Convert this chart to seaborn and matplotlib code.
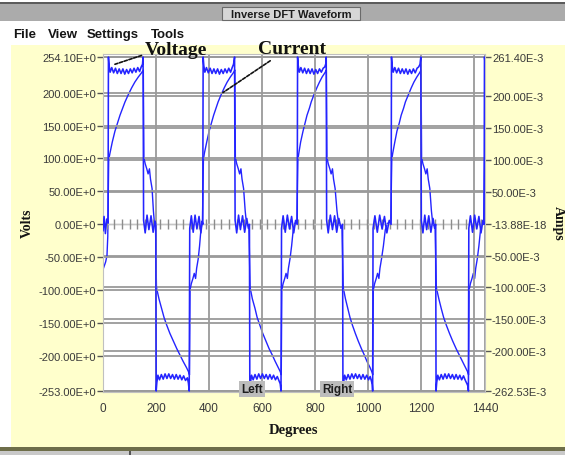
import matplotlib
matplotlib.use("Agg")
import matplotlib.pyplot as plt
import matplotlib.transforms as mtransforms
from matplotlib.patches import Rectangle
import numpy as np
import pandas as pd
import seaborn as sns

# ---------------- data ----------------
# Voltage waveform: (degrees, volts)
voltage_pts = [
    (0, -10), (4, 12), (9, -14), (14, 8), (19, 2),
    (20.5, 254), (23, 241), (27, 231), (33, 238), (40, 230), (47, 237), (54, 229), (61, 236), (68, 229),
    (75, 236), (82, 228), (89, 235), (96, 229), (103, 236), (110, 230), (117, 237), (124, 231), (131, 238),
    (138, 232), (144, 239), (149, 243), (151, 254), (153, 6),
    (159, -13), (166, 14), (173, -8), (181, 13), (189, -12), (196, 5), (199, 0),
    (200.5, -253), (203, -240), (207, -229), (213, -236), (220, -228), (227, -235), (234, -227), (241, -234),
    (248, -227), (255, -234), (262, -228), (269, -235), (276, -228), (283, -235), (290, -229), (297, -236),
    (304, -230), (311, -237), (318, -233), (322, -241), (325, -253), (327, -6),
    (333, 13), (340, -12), (347, 14), (354, -7), (362, 12), (369, -13), (374, 5), (376, 0),
    (377.5, 254), (380, 241), (384, 231), (390, 238), (397, 230), (404, 237), (411, 229), (418, 236),
    (425, 229), (432, 236), (439, 228), (446, 235), (453, 229), (460, 236), (467, 230), (474, 237),
    (481, 231), (487, 238), (492, 243), (496, 254), (498, 6),
    (504, -13), (511, 14), (518, -8), (526, 13), (534, -12), (542, 9), (548, -6), (552, 0),
    (553.5, -253), (556, -240), (560, -229), (566, -236), (573, -228), (580, -235), (587, -227), (594, -234),
    (601, -227), (608, -234), (615, -228), (622, -235), (629, -228), (636, -235), (643, -229), (650, -236),
    (657, -231), (663, -237), (668, -242), (671, -253), (673, -6),
    (679, 13), (687, -12), (695, 14), (703, -7), (711, 12), (719, -13), (726, 6), (732, 0),
    (733.5, 254), (736, 241), (740, 231), (746, 238), (753, 230), (760, 237), (767, 229), (774, 236),
    (781, 229), (788, 236), (795, 228), (802, 235), (809, 229), (816, 236), (823, 231), (830, 237),
    (836, 239), (840, 244), (841.5, 254), (843, 6),
    (849, -13), (857, 14), (865, -8), (873, 13), (881, -12), (889, 9), (897, -6), (903, 0),
    (904.5, -253), (907, -240), (911, -229), (917, -236), (924, -228), (931, -235), (938, -227), (945, -234),
    (952, -227), (959, -234), (966, -228), (973, -235), (980, -228), (987, -235), (994, -229), (1001, -236),
    (1007, -231), (1012, -238), (1015, -243), (1016.5, -253), (1018, -6),
    (1025, 13), (1034, -12), (1043, 14), (1052, -7), (1061, 12), (1070, -13), (1079, 6), (1086, 0),
    (1087.5, 254), (1090, 241), (1094, 231), (1100, 238), (1107, 230), (1114, 237), (1121, 229), (1128, 236),
    (1135, 229), (1142, 236), (1149, 228), (1156, 235), (1163, 229), (1170, 236), (1177, 230), (1184, 237),
    (1190, 239), (1195, 243), (1198, 254), (1200, 6),
    (1206, -13), (1213, 14), (1220, -8), (1228, 13), (1236, -12), (1244, 9), (1250, -6), (1254, 0),
    (1255.5, -253), (1258, -240), (1262, -229), (1268, -236), (1275, -228), (1282, -235), (1289, -227),
    (1296, -234), (1303, -227), (1310, -234), (1317, -228), (1324, -235), (1331, -228), (1338, -235),
    (1345, -229), (1352, -236), (1359, -230), (1366, -237), (1372, -242), (1376, -246), (1377.5, -253), (1379, -6),
    (1385, 13), (1393, -12), (1401, 14), (1409, -7), (1417, 12), (1425, -13), (1432, 6), (1436.5, 0),
    (1438, 254), (1440, 246),
]

# Current waveform: (degrees, amps)
current_pts = [
    (0, -0.072), (5, -0.066), (10, -0.060), (15, -0.050), (18, -0.020), (21.5, 0.100),
    (26, 0.110), (35, 0.128), (45, 0.145), (55, 0.158), (64, 0.170), (74, 0.181), (83, 0.191), (95, 0.202),
    (108, 0.213), (120, 0.222), (133, 0.230), (146, 0.237), (152, 0.241),
    (154, 0.104), (159, 0.094), (165, 0.086), (170, 0.078), (175, 0.086), (179, 0.070), (185, 0.055),
    (190, 0.020), (194, 0.000), (198, -0.005), (201.5, -0.100),
    (211, -0.118), (221, -0.133), (230, -0.147), (240, -0.159), (252, -0.172), (265, -0.184), (278, -0.196),
    (290, -0.206), (302, -0.216), (315, -0.226), (322, -0.232), (326, -0.237),
    (328, -0.104), (333, -0.094), (339, -0.086), (344, -0.078), (349, -0.086), (353, -0.070), (359, -0.055),
    (364, -0.035), (369, -0.010), (373, 0.000), (375, 0.005), (378.5, 0.100),
    (382, 0.110), (391, 0.128), (400, 0.145), (409, 0.158), (417, 0.170), (426, 0.181), (434, 0.191),
    (445, 0.202), (457, 0.213), (468, 0.222), (480, 0.230), (492, 0.237), (497, 0.241),
    (499, 0.104), (504, 0.094), (510, 0.086), (515, 0.078), (520, 0.086), (524, 0.070), (530, 0.055),
    (536, 0.020), (541, 0.000), (550, -0.005), (554.5, -0.100),
    (563, -0.118), (573, -0.133), (581, -0.147), (591, -0.159), (602, -0.172), (614, -0.184), (626, -0.196),
    (638, -0.206), (649, -0.216), (661, -0.226), (668, -0.232), (672, -0.237),
    (674, -0.104), (679, -0.094), (685, -0.086), (690, -0.078), (695, -0.086), (699, -0.070), (705, -0.055),
    (711, -0.035), (717, -0.010), (723, 0.000), (731, 0.005), (734.5, 0.100),
    (738, 0.110), (745, 0.128), (754, 0.145), (762, 0.158), (769, 0.170), (778, 0.181), (785, 0.191),
    (795, 0.202), (806, 0.213), (816, 0.222), (826, 0.230), (837, 0.237), (842, 0.241),
    (844, 0.104), (849, 0.094), (855, 0.086), (860, 0.078), (865, 0.086), (869, 0.070), (875, 0.055),
    (882, 0.020), (888, 0.000), (901, -0.005), (905.5, -0.100),
    (914, -0.118), (923, -0.133), (931, -0.147), (940, -0.159), (951, -0.172), (962, -0.184), (974, -0.196),
    (985, -0.206), (995, -0.216), (1007, -0.226), (1013, -0.232), (1017, -0.237),
    (1019, -0.104), (1024, -0.094), (1030, -0.086), (1035, -0.078), (1040, -0.086), (1044, -0.070),
    (1050, -0.055), (1057, -0.035), (1064, -0.010), (1072, 0.000), (1085, 0.005), (1088.5, 0.100),
    (1092, 0.110), (1100, 0.128), (1108, 0.145), (1117, 0.158), (1124, 0.170), (1133, 0.181), (1140, 0.191),
    (1151, 0.202), (1162, 0.213), (1172, 0.222), (1183, 0.230), (1194, 0.237), (1199, 0.241),
    (1201, 0.104), (1206, 0.094), (1212, 0.086), (1217, 0.078), (1222, 0.086), (1226, 0.070), (1232, 0.055),
    (1238, 0.020), (1243, 0.000), (1252, -0.005), (1256.5, -0.100),
    (1266, -0.118), (1275, -0.133), (1284, -0.147), (1294, -0.159), (1306, -0.172), (1318, -0.184),
    (1331, -0.196), (1343, -0.206), (1355, -0.216), (1367, -0.226), (1374, -0.232), (1378, -0.237),
    (1380, -0.104), (1385, -0.094), (1391, -0.086), (1396, -0.078), (1401, -0.086), (1405, -0.070),
    (1411, -0.055), (1417, -0.035), (1423, -0.010), (1429, 0.000), (1435, 0.005), (1438.5, 0.100), (1440, 0.105),
]

x_ticks = [0, 200, 400, 600, 800, 1000, 1200, 1440]
x_tick_labels = ["0", "200", "400", "600", "800", "1000", "1200", "1440"]
volt_ticks = [254.1, 200, 150, 100, 50, 0, -50, -100, -150, -200, -253]
volt_tick_labels = ["254.10E+0", "200.00E+0", "150.00E+0", "100.00E+0", "50.00E+0", "0.00E+0",
                    "-50.00E+0", "-100.00E+0", "-150.00E+0", "-200.00E+0", "-253.00E+0"]
amp_ticks = [0.2614, 0.2, 0.15, 0.1, 0.05, 0.0, -0.05, -0.1, -0.15, -0.2, -0.26253]
amp_tick_labels = ["261.40E-3", "200.00E-3", "150.00E-3", "100.00E-3", "50.00E-3", "-13.88E-18",
                   "-50.00E-3", "-100.00E-3", "-150.00E-3", "-200.00E-3", "-262.53E-3"]
cursor_labels = ["Left", "Right"]
cursor_deg = [561, 882]

# ---------------- styling ----------------
sns.set_style("white")
plt.rcParams["font.family"] = ["DejaVu Sans"]
SANS = ["Liberation Sans", "DejaVu Sans"]
SERIF = ["Liberation Serif", "DejaVu Serif"]
BLUE = "#2424ff"
GRID = "#9a9a9a"
TXT = "#3a3a3a"

W, H = 565, 456
fig = plt.figure(figsize=(W / 100, H / 100), dpi=100)
fig.patch.set_facecolor("white")


def rect(x0, y0, x1, y1, color, z=-5, ec="none", lw=0):
    fig.add_artist(Rectangle((x0 / W, 1 - y1 / H), (x1 - x0) / W, (y1 - y0) / H,
                             transform=fig.transFigure, facecolor=color,
                             edgecolor=ec, linewidth=lw, zorder=z))


# window chrome
rect(0, 4, W, 22, "#ababab")
rect(0, 3, W, 5, "#5c5c5c")
rect(222, 8, 360, 21, "#d6d6d6", z=-4, ec="#6a6a6a", lw=0.8)
fig.text(291 / W, 1 - 14.5 / H, "Inverse DFT Waveform", ha="center", va="center",
         fontsize=8, fontweight="bold", family=SANS, color="#1a1a1a")
for word, x in zip(["File", "View", "Settings", "Tools"], [13, 48, 87, 151]):
    fig.text(x / W, 1 - 35 / H, word, ha="left", va="center", fontsize=9.5,
             fontweight="bold", family=SANS, color="#151515")
rect(11, 46, W, 448, "#ffffcc")
rect(0, 448, W, 452, "#6e6e4a")
rect(0, 452, W, H, "#c9c9c9")
rect(129, 452, 130.5, H, "#555555", z=-4)

# plot axes
ax = fig.add_axes([103 / W, 1 - 393 / H, (485 - 103) / W, (393 - 55) / H])
ax2 = ax.twinx()
ax.set_zorder(2)
ax.patch.set_visible(False)
ax2.set_zorder(1)
ax2.patch.set_visible(True)
ax2.patch.set_facecolor("white")

volt_df = pd.DataFrame(voltage_pts, columns=["deg", "volts"])
curr_df = pd.DataFrame(current_pts, columns=["deg", "amps"])

sns.lineplot(data=volt_df, x="deg", y="volts", ax=ax, sort=False, estimator=None,
             color=BLUE, lw=1.15, zorder=4)
sns.lineplot(data=curr_df, x="deg", y="amps", ax=ax2, sort=False, estimator=None,
             color=BLUE, lw=1.0, zorder=4)

ax.set_xlim(0, 1440)
ax.set_ylim(-254.5, 258.6)
ax2.set_ylim(-0.2641, 0.2661)

ax.set_xticks(x_ticks)
ax.set_xticklabels(x_tick_labels)
ax.set_xticks([1400], minor=True)
ax.set_yticks(volt_ticks)
ax.set_yticklabels(volt_tick_labels)
ax2.set_yticks(amp_ticks)
ax2.set_yticklabels(amp_tick_labels)
ax.set_xlabel("")
ax.set_ylabel("")
ax2.set_xlabel("")
ax2.set_ylabel("")

ax.grid(True, which="major", axis="both", color=GRID, lw=1.3)
ax.grid(True, which="minor", axis="x", color=GRID, lw=1.3)
ax2.grid(True, which="major", axis="y", color=GRID, lw=1.3)
ax2.grid(False, axis="x")
for tick, val in zip(ax.yaxis.get_major_ticks(), volt_ticks):
    if val == 0:
        tick.gridline.set_color("#c6c6c6")
        tick.gridline.set_linewidth(1.0)
for tick, val in zip(ax2.yaxis.get_major_ticks(), amp_ticks):
    if val == 0:
        tick.gridline.set_color("#c6c6c6")
        tick.gridline.set_linewidth(1.0)

# small marks along the zero line
zero_marks = np.arange(14.4, 1440, 28.8)
ax.plot(zero_marks, np.zeros_like(zero_marks), ls="none", marker="|", ms=7, mew=1.0,
        color="#8c8c8c", zorder=1.5)

ax.tick_params(axis="y", which="major", direction="out", length=4, width=1,
               color="#555555", labelcolor=TXT, pad=1, labelsize=8)
ax2.tick_params(axis="y", which="major", direction="out", length=4, width=1,
                color="#555555", labelcolor=TXT, pad=1, labelsize=8)
ax.tick_params(axis="x", which="major", direction="out", length=5, width=1,
               color="#555555", labelcolor=TXT, pad=2, labelsize=8.5)
ax.tick_params(axis="x", which="minor", length=0)
for lab in ax.get_yticklabels() + ax2.get_yticklabels() + ax.get_xticklabels():
    lab.set_fontfamily(SANS)

for sp in ax.spines.values():
    sp.set_color("#c0c0c0")
    sp.set_linewidth(0.8)
for sp in ax2.spines.values():
    sp.set_visible(False)

# cursor markers
trans = mtransforms.blended_transform_factory(ax.transData, ax.transAxes)
for lab, d in zip(cursor_labels, cursor_deg):
    ax.text(d, 0.009, lab, transform=trans, ha="center", va="center", fontsize=8.5,
            fontweight="bold", family=SANS, color="#1e1e1e", clip_on=False, zorder=6,
            bbox=dict(boxstyle="square,pad=0.18", fc="#bcbcbc", ec="none"))

# series annotations
ax.annotate("Voltage", xy=(45, 243), xycoords="data", xytext=(176, H - 51),
            textcoords="figure pixels", ha="center", va="center", fontsize=14,
            fontweight="bold", family=SERIF, color="#111111", annotation_clip=False, zorder=6,
            arrowprops=dict(arrowstyle="-", linestyle=(0, (2, 1)), color="#111111", lw=1.2,
                            shrinkA=0, shrinkB=0, relpos=(0.03, 0.28)))
ax.annotate("Current", xy=(452, 200), xycoords="data", xytext=(292, H - 50),
            textcoords="figure pixels", ha="center", va="center", fontsize=14,
            fontweight="bold", family=SERIF, color="#111111", annotation_clip=False, zorder=6,
            arrowprops=dict(arrowstyle="-", linestyle=(0, (2, 1)), color="#111111", lw=1.2,
                            shrinkA=0, shrinkB=0, relpos=(0.27, 0.05)))

# axis titles
fig.text(27 / W, 1 - 223 / H, "Volts", rotation=90, ha="center", va="center",
         fontsize=10, fontweight="bold", family=SERIF, color="#151515")
fig.text(558 / W, 1 - 223 / H, "Amps", rotation=270, ha="center", va="center",
         fontsize=10, fontweight="bold", family=SERIF, color="#151515")
fig.text(293 / W, 1 - 431 / H, "Degrees", ha="center", va="center",
         fontsize=10.5, fontweight="bold", family=SERIF, color="#151515")

fig.savefig("out.png", dpi=100, facecolor="white")
